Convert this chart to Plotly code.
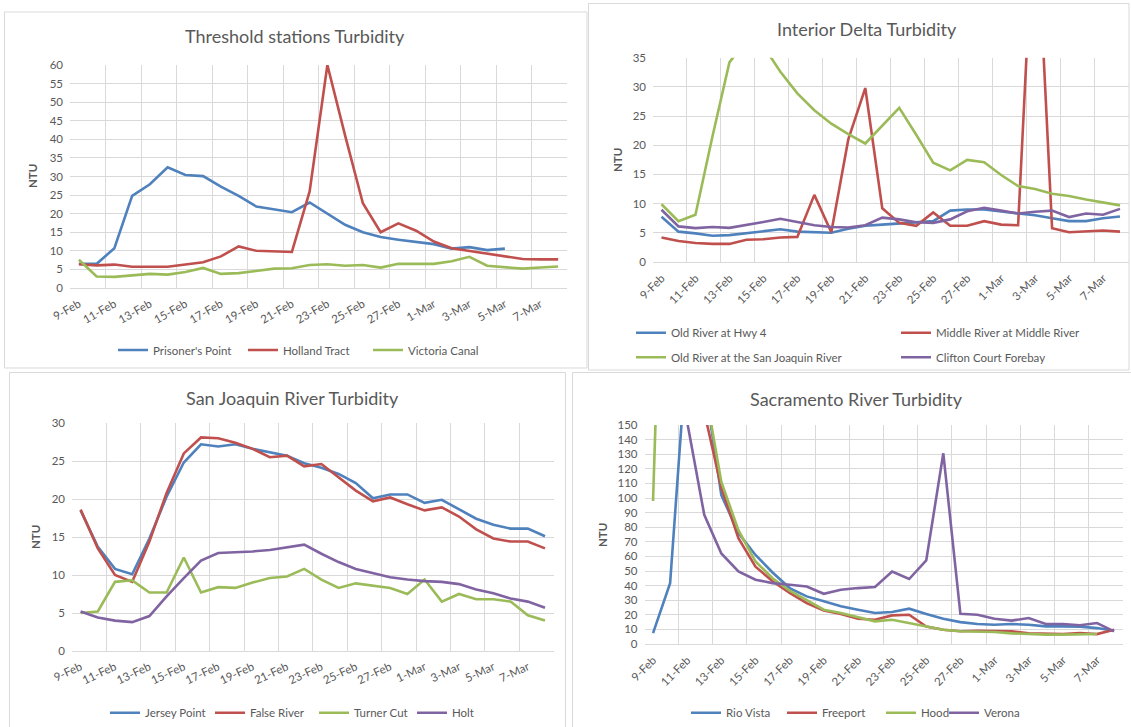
import pandas as pd
import plotly.graph_objects as go

# ---------------- data ----------------
dates = pd.date_range("2017-02-09", periods=28, freq="D")
x_tick_labels = ["9-Feb", "11-Feb", "13-Feb", "15-Feb", "17-Feb", "19-Feb", "21-Feb",
                 "23-Feb", "25-Feb", "27-Feb", "1-Mar", "3-Mar", "5-Mar", "7-Mar"]

# Threshold stations
prisoners_point = [6.5, 6.5, 10.7, 24.8, 27.9, 32.5, 30.4, 30.1, 27.3, 24.8, 21.9, 21.2, 20.4, 23.0,
                   19.9, 17.0, 15.0, 13.7, 13.0, 12.5, 11.8, 10.6, 11.0, 10.2, 10.6, None, None, None]
holland_tract = [6.4, 6.1, 6.3, 5.7, 5.7, 5.7, 6.3, 6.9, 8.5, 11.2, 10.0, 9.8, 9.7, 26.0,
                 60.0, 41.0, 22.8, 15.0, 17.4, 15.4, 12.5, 10.7, 10.0, 9.3, 8.5, 7.8, 7.7, 7.7]
victoria_canal = [7.6, 3.1, 3.0, 3.4, 3.8, 3.6, 4.3, 5.4, 3.8, 4.0, 4.7, 5.2, 5.3, 6.2,
                  6.4, 6.0, 6.2, 5.5, 6.5, 6.5, 6.5, 7.2, 8.4, 6.0, 5.6, 5.2, 5.5, 5.8]

# Interior Delta
old_river_hwy4 = [7.75, 5.2, 4.9, 4.5, 4.6, 4.9, 5.2, 5.6, 5.2, 5.1, 5.0, 5.7, 6.2, 6.4,
                  6.6, 6.8, 7.0, 8.8, 9.0, 9.0, 8.7, 8.4, 8.0, 7.5, 7.0, 7.0, 7.5, 7.8]
middle_river = [4.2, 3.6, 3.25, 3.1, 3.1, 3.8, 3.9, 4.2, 4.3, 11.5, 5.1, 21.0, 29.8, 9.2,
                6.7, 6.2, 8.5, 6.2, 6.2, 7.0, 6.4, 6.3, 65.0, 5.8, 5.1, 5.2, 5.4, 5.2]
old_river_sjr = [9.9, 7.0, 8.1, 21.5, 34.2, 38.0, 37.0, 32.6, 28.9, 26.0, 23.7, 21.9, 20.3, 23.3,
                 26.4, 21.8, 17.0, 15.7, 17.5, 17.1, 14.9, 13.0, 12.5, 11.7, 11.3, 10.7, 10.2, 9.7]
clifton_court = [8.95, 6.1, 5.8, 6.0, 5.85, 6.3, 6.85, 7.4, 6.9, 6.3, 6.0, 5.9, 6.3, 7.6,
                 7.3, 6.8, 6.7, 7.3, 8.7, 9.3, 8.8, 8.3, 8.6, 8.8, 7.7, 8.3, 8.1, 9.1]

# San Joaquin River
jersey_point = [18.5, 13.7, 10.8, 10.1, 14.8, 20.3, 24.8, 27.2, 26.9, 27.2, 26.6, 26.1, 25.7, 24.7,
                24.1, 23.3, 22.1, 20.1, 20.6, 20.6, 19.5, 19.9, 18.7, 17.4, 16.6, 16.1, 16.1, 15.1]
false_river = [18.6, 13.5, 10.0, 9.1, 14.4, 20.8, 26.0, 28.1, 28.0, 27.4, 26.6, 25.5, 25.7, 24.3,
               24.6, 22.9, 21.1, 19.7, 20.2, 19.3, 18.5, 18.9, 17.7, 16.0, 14.8, 14.4, 14.4, 13.5]
turner_cut = [5.0, 5.2, 9.1, 9.3, 7.7, 7.7, 12.3, 7.7, 8.4, 8.3, 9.0, 9.6, 9.8, 10.8,
              9.4, 8.3, 8.9, 8.6, 8.3, 7.5, 9.4, 6.5, 7.5, 6.8, 6.8, 6.5, 4.7, 4.0]
holt = [5.2, 4.4, 4.0, 3.8, 4.6, 7.2, 9.6, 11.9, 12.9, 13.0, 13.1, 13.3, 13.7, 14.0,
        12.8, 11.7, 10.8, 10.2, 9.7, 9.4, 9.2, 9.1, 8.8, 8.1, 7.6, 6.9, 6.5, 5.7]

# Sacramento River
rio_vista = [7.5, 41.7, 205.0, 180.0, 102.0, 76.0, 61.0, 49.0, 38.3, 32.6, 29.2, 25.8, 23.5, 21.2,
             21.9, 24.2, 20.5, 17.3, 15.0, 13.7, 13.2, 13.7, 13.2, 12.1, 12.1, 11.9, 10.9, 9.1]
freeport = [None, None, None, 159.0, 107.0, 72.5, 53.0, 43.0, 35.0, 28.0, 23.0, 20.5, 17.3, 16.6,
            19.6, 20.0, 12.0, 9.8, 8.7, 9.1, 9.1, 8.7, 7.3, 7.3, 6.8, 7.5, 6.8, 9.8]
hood = [98.0, 470.0, None, 178.0, 111.0, 78.0, 56.5, 45.0, 36.5, 30.0, 23.5, 21.2, 18.2, 15.5,
        16.6, 14.4, 11.9, 9.8, 8.7, 8.7, 8.2, 7.3, 6.8, 6.4, 6.4, 6.8, 6.8, None]
verona = [None, None, 152.0, 88.5, 62.0, 49.7, 44.0, 41.7, 40.6, 39.4, 34.4, 37.2, 38.3, 39.0,
          49.7, 44.5, 57.2, 130.6, 20.7, 20.0, 17.3, 16.0, 17.8, 13.7, 13.7, 12.8, 14.4, 8.7]

titles = ["Threshold stations Turbidity", "Interior Delta Turbidity",
          "San Joaquin River Turbidity", "Sacramento River Turbidity"]

# ---------------- styling ----------------
W, H = 1131, 727
BLUE, RED, GREEN, PURPLE = "#4F81BD", "#C0504D", "#9BBB59", "#8064A2"
GRID = "#d9d9d9"
TXT = "#595959"
FONT = "Lato"


def px_x(v):
    return v / W


def px_y(v):
    return 1 - v / H


fig = go.Figure()

# panel specs: (axis suffix, x-domain px, y-domain px, y max, y dtick, tick angle)
panels = [
    ("", (70, 567), (65, 288), 60, 5, -30),
    ("2", (653, 1128.5), (57.7, 262), 35, 5, -45),
    ("3", (72, 553.6), (423, 651), 30, 5, -25),
    ("4", (644.5, 1122.6), (425, 644), 150, 10, -45),
]

series = [
    # panel, name, values, color, legend, legendwidth
    (0, "Prisoner's Point", prisoners_point, BLUE, "legend", 85),
    (0, "Holland Tract", holland_tract, RED, "legend", 80),
    (0, "Victoria Canal", victoria_canal, GREEN, "legend", 80),
    (1, "Old River at Hwy 4", old_river_hwy4, BLUE, "legend2", 220),
    (1, "Middle River at Middle River", middle_river, RED, "legend2", 170),
    (1, "Old River at the San Joaquin River", old_river_sjr, GREEN, "legend3", 220),
    (1, "Clifton Court Forebay", clifton_court, PURPLE, "legend3", 120),
    (2, "Jersey Point", jersey_point, BLUE, "legend4", 60),
    (2, "False River", false_river, RED, "legend4", 59),
    (2, "Turner Cut", turner_cut, GREEN, "legend4", 53),
    (2, "Holt", holt, PURPLE, "legend4", 30),
    (3, "Rio Vista", rio_vista, BLUE, "legend5", 51),
    (3, "Freeport", freeport, RED, "legend5", 54),
    (3, "Hood", hood, GREEN, "legend5", 18),
    (3, "Verona", verona, PURPLE, "legend5", 45),
]

for p, name, vals, color, leg, lw in series:
    suf = panels[p][0]
    fig.add_trace(go.Scatter(
        x=dates, y=vals, name=name, mode="lines",
        line=dict(color=color, width=2.6),
        xaxis="x" + suf, yaxis="y" + suf,
        legend=leg, legendwidth=lw, showlegend=True,
        hoverinfo="skip",
    ))

half_day = pd.Timedelta(hours=12)
boundaries = [d - half_day for d in dates[::2]] + [dates[-1] + half_day]

layout_axes = {}
for i, (suf, (x0, x1), (y0, y1), ymax, ydt, tang) in enumerate(panels):
    layout_axes["xaxis" + suf] = dict(
        domain=[px_x(x0), px_x(x1)],
        anchor="y" + suf,
        type="date",
        range=[dates[0] - half_day, dates[-1] + half_day],
        tickmode="array",
        tickvals=list(dates[::2]),
        ticktext=x_tick_labels,
        tickangle=tang,
        tickfont=dict(family=FONT, size=11.5, color=TXT),
        showgrid=False,
        minor=dict(showgrid=True, gridcolor=GRID, gridwidth=1,
                   tickmode="array", tickvals=boundaries, ticks=""),
        showline=True, linecolor=GRID, linewidth=1,
        ticks="", zeroline=False,
        ticklabelstandoff=4,
        automargin=False,
    )
    layout_axes["yaxis" + suf] = dict(
        domain=[px_y(y1), px_y(y0)],
        anchor="x" + suf,
        range=[0, ymax],
        dtick=ydt, tick0=0,
        showgrid=True, gridcolor=GRID, gridwidth=1,
        zeroline=False, showline=False, ticks="",
        tickfont=dict(family=FONT, size=11.5, color=TXT),
        ticklabelstandoff=6,
        automargin=False,
    )

fig.update_layout(**layout_axes)

# legends
leg_common = dict(orientation="h", font=dict(family=FONT, size=11.5, color=TXT),
                  bgcolor="rgba(0,0,0,0)", borderwidth=0, xanchor="left", yanchor="middle",
                  itemclick=False, itemdoubleclick=False)
fig.update_layout(
    legend=dict(x=px_x(118 - 5), y=px_y(350), **leg_common),
    legend2=dict(x=px_x(636 - 5), y=px_y(332.7), **leg_common),
    legend3=dict(x=px_x(636 - 5), y=px_y(357.3), **leg_common),
    legend4=dict(x=px_x(110 - 5), y=px_y(712.7), **leg_common),
    legend5=dict(x=px_x(691 - 5), y=px_y(712.7), **leg_common),
)

annotations = []
title_pos = [(295, 36), (867, 29), (292, 398), (856, 399)]
for t, (tx, ty) in zip(titles, title_pos):
    annotations.append(dict(text=t, x=px_x(tx), y=px_y(ty), xref="paper", yref="paper",
                            showarrow=False, xanchor="center", yanchor="middle",
                            font=dict(family=FONT, size=18, color=TXT)))
ntu_pos = [(32, 176), (617, 160), (35, 537), (602, 535)]
for nx, ny in ntu_pos:
    annotations.append(dict(text="<b>NTU</b>", x=px_x(nx), y=px_y(ny), xref="paper", yref="paper",
                            showarrow=False, xanchor="center", yanchor="middle", textangle=-90,
                            font=dict(family=FONT, size=11.5, color=TXT)))

# panel frames
frames = [(4.5, 12, 587, 368), (588.5, 3.5, 1129, 370), (9.5, 372.5, 565.5, 730), (572.5, 372.5, 1135, 730)]
shapes = []
for fx0, fy0, fx1, fy1 in frames:
    shapes.append(dict(type="rect", xref="paper", yref="paper",
                       x0=px_x(fx0), x1=px_x(fx1), y0=px_y(fy1), y1=px_y(fy0),
                       line=dict(color=GRID, width=1), fillcolor="rgba(0,0,0,0)", layer="below"))

fig.update_layout(
    width=W, height=H,
    margin=dict(l=0, r=0, t=0, b=0, autoexpand=False),
    paper_bgcolor="white", plot_bgcolor="white",
    font=dict(family=FONT, color=TXT),
    annotations=annotations,
    shapes=shapes,
    showlegend=True,
)

fig.write_html(
    "out.html",
    config={"displayModeBar": False},
    post_script="document.body.style.margin='0px';document.body.style.overflow='hidden';",
)
